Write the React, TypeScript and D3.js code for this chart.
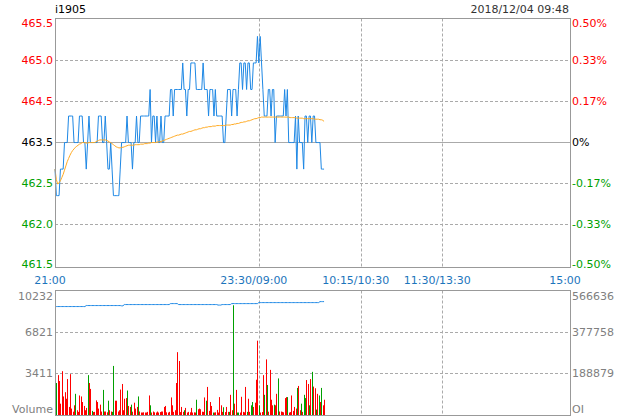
import React from 'react';
import * as d3 from 'd3';

const title = 'i1905';
const stamp = '2018/12/04 09:48';
const preClose = 463.52;
const sessionLength = 379;
const timeTicks = [0, 150, 225, 285, 379];
const timeLabels = ['21:00', '23:30/09:00', '10:15/10:30', '11:30/13:30', '15:00'];
const priceLabels = ['465.5', '465.0', '464.5', '463.5', '462.5', '462.0', '461.5'];
const pctLabels = ['0.50%', '0.33%', '0.17%', '0%', '-0.17%', '-0.33%', '-0.50%'];
const volLabels = ['10232', '6821', '3411', 'Volume'];
const oiLabels = ['566636', '377758', '188879', 'OI'];
const volMax = 10232;
const oiMax = 566636;

// one value per minute, 21:00 -> 09:48
const prices = [
  463.0, 462.5, 462.5, 462.5, 463.0, 463.0, 463.0, 463.5, 463.5, 463.5,
  464.0, 464.0, 464.0, 464.0, 463.5, 463.5, 463.5, 463.5, 464.0, 464.0,
  464.0, 463.5, 463.5, 463.0, 463.5, 464.0, 463.5, 463.5, 463.5, 463.5,
  463.5, 463.5, 464.0, 464.0, 464.0, 463.5, 463.5, 464.0, 463.5, 463.0,
  463.0, 463.5, 463.0, 462.5, 462.5, 462.5, 462.5, 462.5, 463.0, 463.5,
  463.5, 463.5, 463.5, 464.0, 463.5, 463.5, 463.5, 463.0, 463.5, 463.5,
  464.0, 463.5, 463.5, 464.0, 464.0, 464.0, 464.0, 464.0, 464.0, 464.0,
  464.5, 463.5, 464.0, 464.0, 463.5, 464.0, 463.5, 463.5, 464.0, 463.5,
  463.5, 464.0, 464.0, 464.0, 464.0, 464.5, 464.5, 464.0, 464.5, 464.5,
  464.5, 464.5, 464.5, 464.5, 465.0, 464.5, 464.5, 464.0, 464.5, 464.5,
  465.0, 465.0, 465.0, 465.0, 464.5, 464.5, 464.5, 464.5, 464.5, 465.0,
  464.5, 464.5, 464.5, 464.0, 464.5, 464.5, 464.5, 464.0, 464.5, 464.0,
  464.0, 464.0, 464.0, 464.0, 463.5, 463.5, 464.0, 464.5, 464.5, 464.5,
  464.0, 464.5, 464.5, 464.5, 464.0, 464.5, 465.0, 465.0, 464.5, 465.0,
  465.0, 464.5, 465.0, 465.0, 464.5, 464.5, 465.0, 465.0, 465.0, 465.5,
  465.0, 465.5, 465.0, 464.5, 464.0, 464.0, 464.0, 464.5, 464.5, 464.0,
  464.5, 464.5, 463.5, 464.0, 464.0, 464.0, 464.0, 464.0, 464.0, 464.5,
  464.0, 464.5, 463.5, 463.5, 463.5, 463.5, 463.5, 464.0, 463.0, 464.0,
  463.5, 463.5, 463.5, 463.0, 464.0, 464.0, 463.5, 464.0, 464.0, 463.5,
  464.0, 464.0, 463.5, 463.5, 463.5, 463.5, 463.0, 463.0, 463.0,
];

const avgPrices = [
  463.00, 462.80, 462.72, 462.74, 462.78, 462.84, 462.90, 462.98, 463.06, 463.14,
  463.20, 463.26, 463.31, 463.35, 463.38, 463.41, 463.43, 463.45, 463.47, 463.48,
  463.50, 463.50, 463.50, 463.49, 463.49, 463.50, 463.50, 463.50, 463.50, 463.50,
  463.51, 463.53, 463.54, 463.55, 463.55, 463.55, 463.55, 463.55, 463.54, 463.53,
  463.51, 463.50, 463.48, 463.46, 463.44, 463.42, 463.41, 463.40, 463.40, 463.41,
  463.41, 463.42, 463.43, 463.44, 463.45, 463.45, 463.45, 463.45, 463.45, 463.46,
  463.46, 463.46, 463.46, 463.47, 463.47, 463.47, 463.48, 463.48, 463.48, 463.49,
  463.49, 463.50, 463.50, 463.50, 463.50, 463.51, 463.51, 463.52, 463.52, 463.53,
  463.54, 463.55, 463.56, 463.57, 463.58, 463.59, 463.60, 463.61, 463.62, 463.63,
  463.64, 463.64, 463.65, 463.66, 463.66, 463.67, 463.68, 463.69, 463.70, 463.71,
  463.71, 463.72, 463.73, 463.74, 463.74, 463.75, 463.76, 463.76, 463.77, 463.78,
  463.78, 463.79, 463.79, 463.80, 463.80, 463.80, 463.81, 463.81, 463.81, 463.82,
  463.82, 463.82, 463.82, 463.82, 463.82, 463.82, 463.83, 463.83, 463.83, 463.83,
  463.84, 463.84, 463.85, 463.85, 463.86, 463.86, 463.87, 463.88, 463.88, 463.89,
  463.89, 463.90, 463.91, 463.91, 463.92, 463.93, 463.94, 463.95, 463.95, 463.96,
  463.97, 463.97, 463.98, 463.98, 463.98, 463.98, 463.98, 463.98, 463.98, 463.98,
  463.98, 463.98, 463.98, 463.98, 463.98, 463.98, 463.98, 463.98, 463.98, 463.98,
  463.98, 463.98, 463.98, 463.97, 463.97, 463.97, 463.97, 463.97, 463.96, 463.96,
  463.96, 463.96, 463.96, 463.95, 463.95, 463.95, 463.95, 463.95, 463.95, 463.95,
  463.95, 463.94, 463.94, 463.94, 463.94, 463.93, 463.93, 463.92, 463.90,
];

const volumes = [
  9004, 2537, 3192, 2701, 818, 3520, 1419, 1773, 1228, 2865,
  546, 3274, 409, 150, 682, 1637, 273, 136, 1501, 1419,
  955, 628, 273, 464, 3192, 2537, 2046, 218, 120, 136,
  1091, 955, 409, 737, 164, 1964, 164, 164, 100, 1064,
  273, 164, 136, 3957, 1064, 1064, 164, 273, 1992, 2456,
  273, 1228, 1282, 1910, 628, 546, 737, 150, 900, 409,
  546, 1419, 164, 82, 82, 100, 82, 82, 136, 1501,
  682, 82, 164, 100, 82, 164, 82, 120, 164, 164,
  546, 628, 100, 82, 136, 1337, 682, 136, 273, 2537,
  5103, 4366, 120, 546, 136, 273, 464, 82, 136, 100,
  464, 82, 100, 82, 1146, 355, 409, 355, 150, 136,
  1337, 1064, 2210, 218, 955, 628, 82, 82, 100, 300,
  82, 1364, 682, 136, 519, 120, 546, 136, 136, 1555,
  273, 9004, 818, 1964, 82, 82, 82, 1391, 136, 100,
  2210, 136, 1228, 136, 682, 955, 546, 900, 2810, 6058,
  682, 82, 120, 3192, 1555, 4502, 2374, 150, 3629, 1146,
  682, 737, 682, 1637, 2919, 164, 164, 136, 100, 1282,
  1364, 1364, 82, 120, 1501, 218, 546, 409, 2128, 2292,
  273, 818, 136, 1555, 1282, 2783, 2456, 682, 2865, 3465,
  2238, 2101, 327, 1637, 1501, 955, 2128, 682, 1146,
];

// r = red bar, g = green bar
const volSide = (
  'rgrrrrrrrr' + 'rrrrrgrrrr' + 'rrrrgrrgrr' + 'rrrrrgrrrg' + 'rrggrrrrrr' +
  'rrrgrrgrrr' + 'rgrrrrrrrr' + 'grrrrrrrrr' + 'rrrrrrrrrr' + 'rrrrrgrrrr' +
  'rrrrgrrrrr' + 'rgrrrrgrrr' + 'rrrrgrrrgr' + 'rgrrggrrrr' + 'rgrrggrrrr' +
  'grrrgrgrrr' + 'rgrrgrrrrr' + 'rgrrrrrrgr' + 'rgrggrrgrg' + 'rrgrgrgrr'
).split('');

const openInterest = [
  492700, 492700, 492700, 492700, 492700, 492700, 492700, 492700, 492700, 492700,
  492700, 492700, 492700, 492700, 492700, 492700, 492700, 492700, 492700, 492700,
  492700, 492700, 492700, 497300, 497300, 497300, 497300, 497300, 497300, 497300,
  497300, 497300, 497300, 497300, 497300, 497300, 497300, 497300, 497300, 497300,
  497300, 497300, 497300, 497300, 497300, 497300, 497300, 497300, 497300, 496000,
  496000, 501800, 501800, 501800, 501800, 501800, 501800, 501800, 501800, 501800,
  501800, 501800, 501800, 501800, 501800, 501800, 501800, 501800, 501800, 501800,
  501800, 501800, 501800, 501800, 501800, 501800, 501800, 501800, 501800, 501800,
  501800, 501800, 501800, 501800, 501800, 506300, 506300, 506300, 506300, 506300,
  506300, 501800, 501800, 501800, 501800, 501800, 501800, 501800, 501800, 501800,
  501800, 501800, 501800, 501800, 501800, 501800, 501800, 501800, 501800, 501800,
  501800, 501800, 501800, 501800, 501800, 501800, 501800, 501800, 501800, 501800,
  499500, 499500, 499500, 501800, 501800, 501800, 501800, 501800, 501800, 501800,
  506300, 506300, 506300, 506300, 506300, 506300, 506300, 506300, 506300, 506300,
  506300, 506300, 506300, 506300, 506300, 506300, 506300, 506300, 506300, 506300,
  510900, 510900, 510900, 510900, 510900, 510900, 510900, 510900, 510900, 510900,
  510900, 510900, 510900, 510900, 510900, 510900, 510900, 510900, 510900, 510900,
  510900, 510900, 510900, 510900, 510900, 510900, 510900, 510900, 510900, 510900,
  510900, 510900, 510900, 510900, 510900, 510900, 510900, 510900, 510900, 510900,
  510900, 510900, 510900, 510900, 510900, 515400, 515400, 515400, 515400,
];

const RED = '#ff0000';
const GREEN = '#00a000';
const GRID = '#aaaaaa';
const BORDER = '#999999';
const FONT = 'DejaVu Sans';

export default function App() {
  const left = 55;
  const right = 570;
  const top = 18.5;
  const scaleBottom = 264.5;
  const mainBottom = 267.5;
  const volTop = 290.5;
  const volZero = 413.5;
  const volBottom = 415.5;

  const x = d3.scaleLinear().domain([0, sessionLength]).range([left, right]);
  const yPrice = d3.scaleLinear()
    .domain([preClose * 0.995, preClose * 1.005])
    .range([scaleBottom, top]);
  const yTick = d3.scalePoint<string>().domain(priceLabels).range([top, scaleBottom]);
  const yVol = d3.scaleLinear().domain([0, volMax]).range([volZero, volTop]);
  const yOi = d3.scaleLinear().domain([0, oiMax]).range([volZero, volTop]);
  const yVolTick = d3.scalePoint<string>().domain(volLabels).range([volTop, volZero]);

  const priceLine = d3.line<number>().x((_, i) => x(i)).y(d => yPrice(d));
  const oiLine = d3.line<number>().x((_, i) => x(i)).y(d => yOi(d));

  const snap = (v: number) => Math.round(v) + 0.5;
  const labelColor = (i: number) => (i < 3 ? RED : i === 3 ? '#000' : GREEN);
  const mainLabelY = (v: number) => Math.min(Math.max(v, top + 4), scaleBottom - 1) + 4;
  const volLabelY = (v: number) => Math.min(Math.max(v, volTop + 5), volZero - 4.5) + 4;

  const innerTimes = timeTicks.slice(1, -1);

  return (
    <svg width={620} height={420}
      style={{ position: 'absolute', left: 0, top: 0, background: '#fff' }}
      fontFamily={FONT} fontSize={11}>
      <text x={left} y={13} fill="#000">{title}</text>
      <text x={569} y={13} fill="#333" textAnchor="end">{stamp}</text>

      {/* main panel grid */}
      {priceLabels.map((p, i) => (i === 0 || i === priceLabels.length - 1) ? null : (
        <line key={'hg' + p} x1={left} x2={right} y1={snap(yTick(p)!)} y2={snap(yTick(p)!)}
          stroke={GRID} strokeDasharray={i === 3 ? undefined : '3,2'} />
      ))}
      {innerTimes.map(t => (
        <g key={'vg' + t}>
          <line x1={snap(x(t))} x2={snap(x(t))} y1={top} y2={mainBottom}
            stroke={GRID} strokeDasharray="3,2" />
          <line x1={snap(x(t))} x2={snap(x(t))} y1={volTop} y2={volBottom}
            stroke={GRID} strokeDasharray="3,2" />
        </g>
      ))}
      {volLabels.slice(1, -1).map(v => (
        <line key={'vh' + v} x1={left} x2={right} y1={snap(yVolTick(v)!)} y2={snap(yVolTick(v)!)}
          stroke={GRID} strokeDasharray="3,2" />
      ))}

      {/* price + average */}
      <path d={priceLine(prices) || ''} fill="none" stroke="#1e88e5" strokeWidth={1} />
      <path d={priceLine(avgPrices) || ''} fill="none" stroke="#ffaa22" strokeWidth={1} />

      {/* volume bars */}
      {volumes.map((v, i) => (
        <rect key={'b' + i} x={Math.round(x(i))} y={yVol(v)} width={1}
          height={volBottom - yVol(v)} fill={volSide[i] === 'g' ? GREEN : RED} />
      ))}
      <path d={oiLine(openInterest) || ''} fill="none" stroke="#1e88e5" strokeWidth={1} />

      {/* frames */}
      <rect x={left + 0.5} y={top} width={right - left} height={mainBottom - top}
        fill="none" stroke={BORDER} />
      <rect x={left + 0.5} y={volTop} width={right - left} height={volBottom - volTop}
        fill="none" stroke={BORDER} />

      {/* y labels */}
      {priceLabels.map((p, i) => (
        <text key={'pl' + p} x={53} y={mainLabelY(yTick(p)!)} textAnchor="end"
          fill={labelColor(i)}>{p}</text>
      ))}
      {pctLabels.map((p, i) => (
        <text key={'pc' + p} x={572} y={mainLabelY(yTick(priceLabels[i])!)}
          fill={labelColor(i)}>{p}</text>
      ))}
      {volLabels.map((v) => (
        <text key={'vl' + v} x={53} y={volLabelY(yVolTick(v)!)} textAnchor="end"
          fill="#808080">{v}</text>
      ))}
      {oiLabels.map((v, i) => (
        <text key={'ol' + v} x={572} y={volLabelY(yVolTick(volLabels[i])!)}
          fill="#808080">{v}</text>
      ))}

      {/* time labels */}
      {timeTicks.map((t, i) => (
        <text key={'t' + t} x={x(t) - 5} y={284} textAnchor="middle" fill="#1c75bc">
          {timeLabels[i]}
        </text>
      ))}
    </svg>
  );
}
